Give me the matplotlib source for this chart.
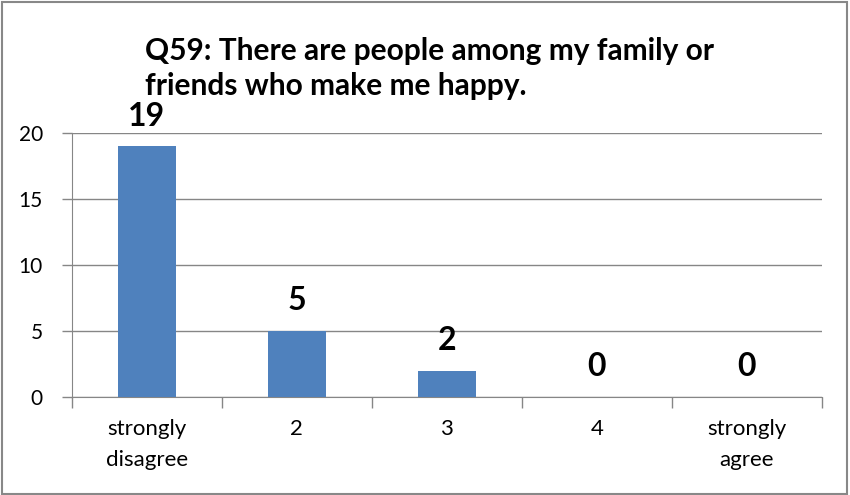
import matplotlib
matplotlib.use("Agg")
import matplotlib.pyplot as plt
from matplotlib.patches import Rectangle

# chart data
categories = ["strongly\ndisagree", "2", "3", "4", "strongly\nagree"]
counts = [19, 5, 2, 0, 0]
yticks = [0, 5, 10, 15, 20]
title_lines = ["Q59: There are people among my family or",
               "friends who make me happy."]

plt.rcParams['font.family'] = ['Lato', 'DejaVu Sans']

grid_col = "#868686"
bar_col = "#4F81BD"

fig = plt.figure(figsize=(8.5, 4.95), dpi=100)
ax = fig.add_axes([0.0847, 0.198, 0.882, 0.533])

x = range(len(categories))
ax.bar(x, counts, width=0.39, color=bar_col, zorder=3)

# value labels above bars
for xi, v in zip(x, counts):
    ax.annotate(str(v), (xi, v), xytext=(0, 15), textcoords="offset points",
                ha="center", va="baseline", fontsize=23, fontweight="bold")

ax.set_xlim(-0.5, len(categories) - 0.5)
ax.set_ylim(0, 20)
ax.set_yticks(yticks)
ax.set_yticklabels([str(t) for t in yticks], fontsize=15)
ax.yaxis.grid(True, color=grid_col, linewidth=1)
ax.set_axisbelow(True)

# category labels centred, tick marks at the boundaries
ax.set_xticks(list(x))
ax.set_xticklabels(categories, fontsize=16, linespacing=1.7)
ax.tick_params(axis="x", length=0, pad=16)
ax.set_xticks([i - 0.5 for i in range(len(categories) + 1)], minor=True)
ax.tick_params(axis="x", which="minor", length=8, color=grid_col, width=1)
ax.tick_params(axis="y", length=7, color=grid_col, width=1, pad=14)

for side in ("top", "right"):
    ax.spines[side].set_visible(False)
for side in ("left", "bottom"):
    ax.spines[side].set_color(grid_col)

# title, two lines placed by baseline
for i, line in enumerate(title_lines):
    fig.text(145 / 850, 1 - (60 + 35 * i) / 495, line, ha="left", va="baseline",
             fontsize=21.5, fontweight="bold")

# outer border like the spreadsheet chart frame
fig.patches.append(Rectangle((0.002, 0.003), 0.995, 0.993, transform=fig.transFigure,
                             fill=False, edgecolor="#888888", linewidth=1.5))

fig.savefig("out.png", dpi=100)
